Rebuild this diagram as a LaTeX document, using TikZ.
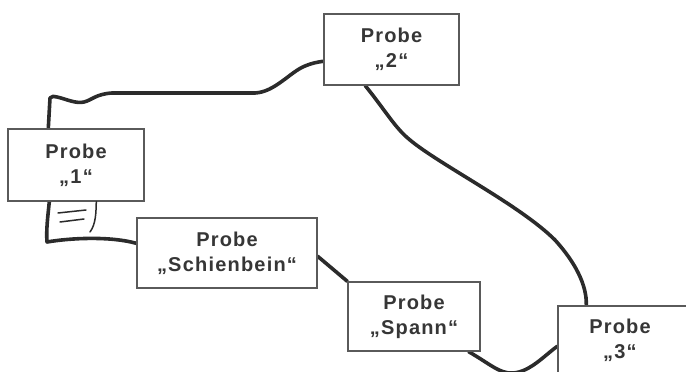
\documentclass[tikz,border=0pt]{standalone}
\usepackage{fontspec}
\setmainfont{Liberation Sans}
\usetikzlibrary{calc}
\pgfdeclarelayer{background}
\pgfsetlayers{background,main}
\definecolor{boxline}{HTML}{5A5A5A}
\definecolor{txt}{HTML}{363636}
\definecolor{wire}{HTML}{2B2B2B}
\tikzset{
  probe/.style={draw=boxline, line width=1.4pt, fill=white, inner sep=0pt,
    align=center, text=txt,
    font=\fontsize{20}{25}\selectfont\bfseries\addfontfeatures{LetterSpace=6}},
  wireline/.style={draw=wire, line width=3.6pt, line cap=round, line join=round},
  thinline/.style={draw=wire, line width=1.5pt, line cap=round}
}
\begin{document}
\begin{tikzpicture}[x=1pt,y=-1pt]
\useasboundingbox (0,0) rectangle (686,372);
\node[probe, minimum width=136pt, minimum height=72pt] (p1) at (76,165) {Probe\\„1“};
\node[probe, minimum width=135pt, minimum height=71pt] (p2) at (391.5,49.5) {Probe\\„2“};
\node[probe, minimum width=180pt, minimum height=70pt] (ps) at (227,253) {Probe\\„Schienbein“};
\node[probe, minimum width=132pt, minimum height=69pt] (pp) at (414,316.5) {Probe\\„Spann“};
\node[probe, minimum width=164pt, minimum height=68pt] (p3) at (640,340) {\hspace*{-40pt}Probe\\\hspace*{-40pt}„3“};
\coordinate (a1) at ($(p1.north west)+(41,0)$);
\coordinate (b2) at ($(p2.north west)+(0,48)$);
\coordinate (c2) at ($(p2.south west)+(42,0)$);
\coordinate (d3) at ($(p3.north west)+(29,0)$);
\coordinate (e1) at ($(p1.south west)+(42,0)$);
\coordinate (f1) at ($(p1.south west)+(89,0)$);
\coordinate (gs) at ($(ps.north west)+(0,26)$);
\coordinate (hs) at ($(ps.north east)+(0,39)$);
\coordinate (ip) at ($(pp.south east)+(-12,0)$);
\coordinate (j3) at ($(p3.north west)+(0,41)$);
\begin{pgfonlayer}{background}
\path[wireline] (a1) -- (50,98) .. controls (52,96) and (54,96) .. (57,97)
  .. controls (66,99) and (76,104) .. (84,102)
  .. controls (92,100) and (96,94) .. (112,93)
  -- (255,93) .. controls (275,92) and (290,72) .. (305,66)
  .. controls (312,63) and (318,62) .. (b2);
\path[wireline] (c2) .. controls (385,110) and (395,128) .. (410,140)
  .. controls (440,165) and (520,205) .. (555,240)
  .. controls (575,262) and (587,285) .. (d3);
\path[wireline] (e1) .. controls (48,215) and (46,230) .. (47,242)
  .. controls (70,238) and (110,236) .. (gs);
\path[wireline] (hs) -- (pp.north west);
\path[wireline] (ip) .. controls (490,364) and (500,374) .. (513,373)
  .. controls (530,372) and (545,355) .. (j3);
\end{pgfonlayer}
\path[thinline] (f1) .. controls (96,212) and (96,224) .. (90,232);
\path[thinline] (58,213) -- (86,210);
\path[thinline] (60,222) -- (84,219);
\end{tikzpicture}
\end{document}
